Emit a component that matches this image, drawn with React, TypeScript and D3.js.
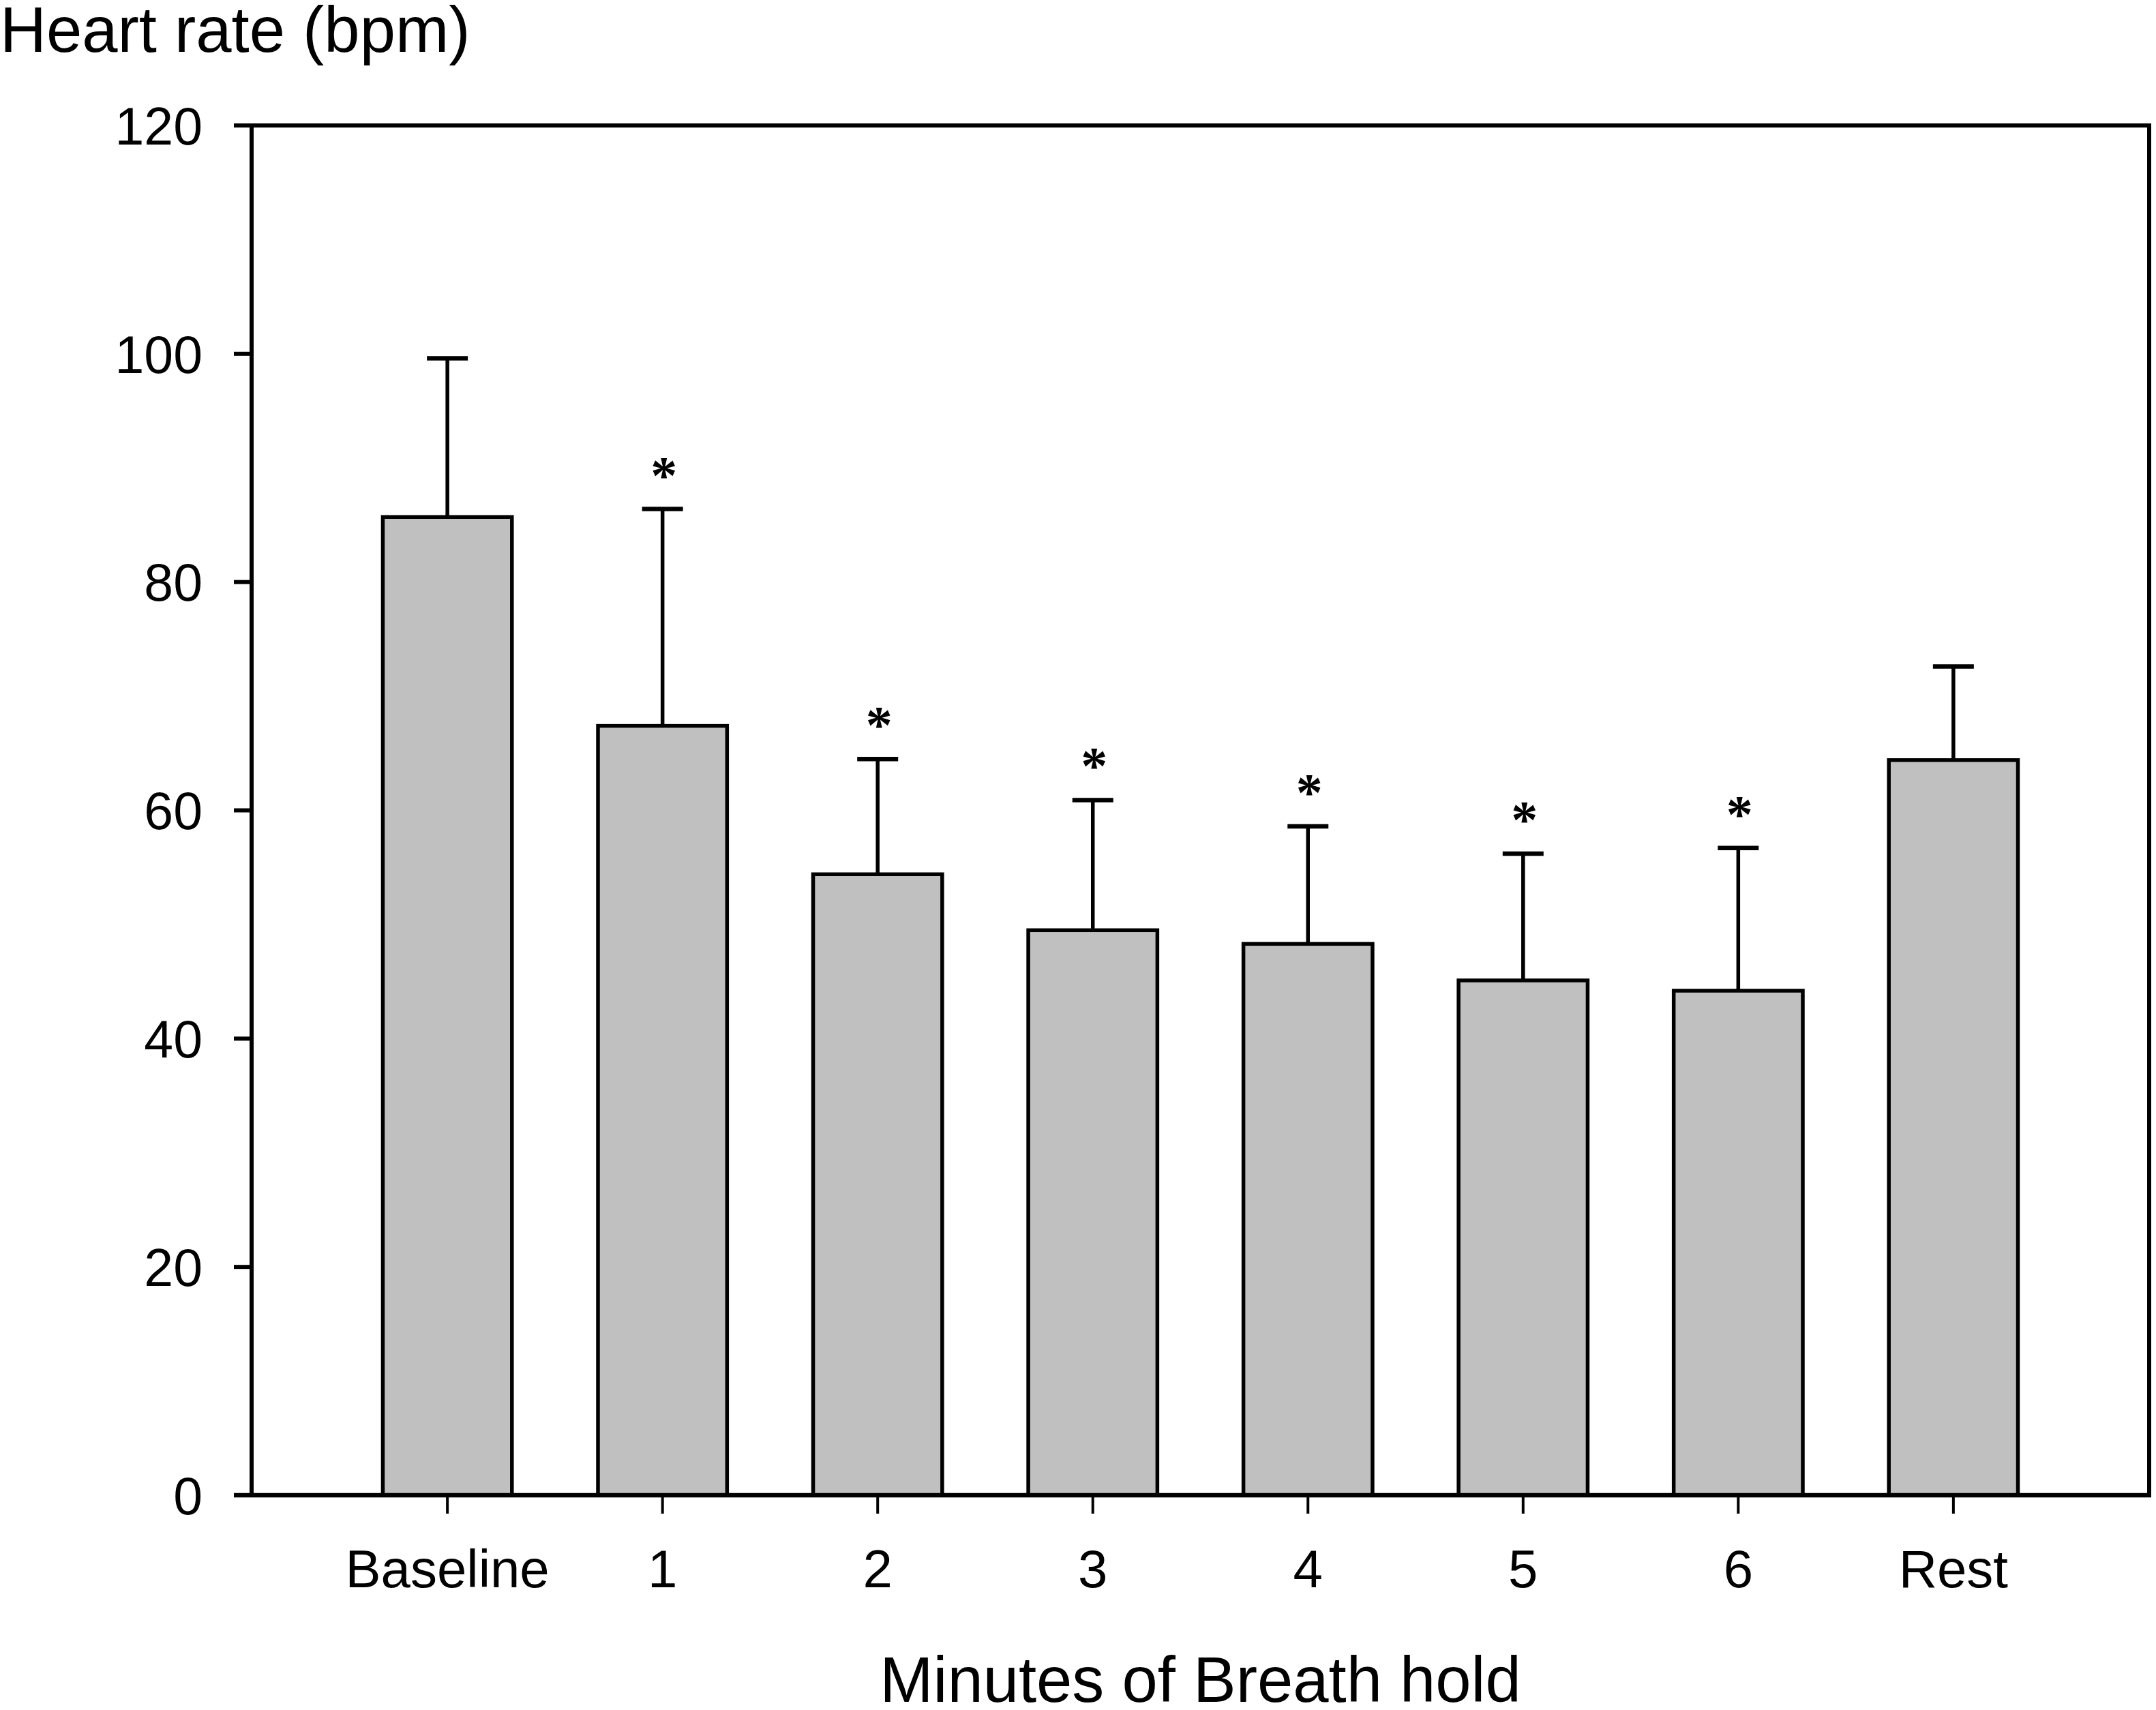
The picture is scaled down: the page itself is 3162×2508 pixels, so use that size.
import React from 'react';
import * as d3 from 'd3';

const categories = ['Baseline', '1', '2', '3', '4', '5', '6', 'Rest'];
const meanHR = [85.7, 67.4, 54.4, 49.5, 48.3, 45.1, 44.2, 64.4];
const sdHR = [13.9, 19.0, 10.1, 11.4, 10.3, 11.1, 12.5, 8.2];
const significant = [false, true, true, true, true, true, true, false];
const yTicks = [0, 20, 40, 60, 80, 100, 120];

const W = 3162;
const H = 2508;
const left = 369;
const right = 3152;
const top = 184;
const bottom = 2193;

export default function App() {
  const x = d3
    .scaleBand<string>()
    .domain(categories)
    .range([left, right])
    .paddingInner(0.4)
    .paddingOuter(0.61);
  const y = d3.scaleLinear().domain([0, 120]).range([bottom, top]);
  const bw = x.bandwidth();
  const sans = 'Liberation Sans, Arial, sans-serif';

  return (
    <svg
      width={W}
      height={H}
      viewBox={`0 0 ${W} ${H}`}
      style={{ position: 'absolute', left: 0, top: 0, background: '#fff' }}
    >
      <rect x={0} y={0} width={W} height={H} fill="#fff" />
      {/* bars */}
      {categories.map((c, i) => (
        <rect
          key={'b' + c}
          x={x(c)!}
          y={y(meanHR[i])}
          width={bw}
          height={y(0) - y(meanHR[i])}
          fill="#c0c0c0"
          stroke="#000"
          strokeWidth={5.5}
        />
      ))}
      {/* error bars */}
      {categories.map((c, i) => {
        const cx = x(c)! + bw / 2;
        const yt = y(meanHR[i] + sdHR[i]);
        return (
          <g key={'e' + c} stroke="#000">
            <line x1={cx} x2={cx} y1={y(meanHR[i])} y2={yt} strokeWidth={5.5} />
            <line x1={cx - 30} x2={cx + 30} y1={yt} y2={yt} strokeWidth={6.5} />
          </g>
        );
      })}
      {/* significance */}
      {categories.map((c, i) =>
        significant[i] ? (
          <text
            key={'s' + c}
            x={x(c)! + bw / 2 + 2}
            y={y(meanHR[i] + sdHR[i]) - 24}
            textAnchor="middle"
            fontFamily="Liberation Serif, Times New Roman, serif"
            fontWeight="bold"
            fontSize={78}
            fill="#000"
          >
            *
          </text>
        ) : null
      )}
      {/* frame */}
      <line x1={left} x2={left} y1={top - 3} y2={bottom + 3} stroke="#000" strokeWidth={6} />
      <line x1={left - 26} x2={right + 3} y1={bottom} y2={bottom} stroke="#000" strokeWidth={6.5} />
      <line x1={left - 3} x2={right + 3} y1={top} y2={top} stroke="#000" strokeWidth={6} />
      <line x1={right} x2={right} y1={top} y2={bottom} stroke="#000" strokeWidth={6} />
      {/* y ticks */}
      {yTicks.map((t) => (
        <g key={'yt' + t}>
          <line x1={left - 26} x2={left} y1={y(t)} y2={y(t)} stroke="#000" strokeWidth={6} />
          <text
            x={left - 72}
            y={y(t)}
            dy="0.36em"
            textAnchor="end"
            fontFamily={sans}
            fontSize={77}
            fill="#000"
          >
            {t}
          </text>
        </g>
      ))}
      {/* x ticks */}
      {categories.map((c) => {
        const cx = x(c)! + bw / 2;
        return (
          <g key={'xt' + c}>
            <line x1={cx} x2={cx} y1={bottom} y2={bottom + 27} stroke="#000" strokeWidth={4} />
            <text
              x={cx}
              y={2328}
              textAnchor="middle"
              fontFamily={sans}
              fontSize={78}
              fill="#000"
            >
              {c}
            </text>
          </g>
        );
      })}
      {/* titles */}
      <text x={0} y={76} fontFamily={sans} fontSize={94} fill="#000">
        Heart rate (bpm)
      </text>
      <text
        x={(left + right) / 2}
        y={2496}
        textAnchor="middle"
        fontFamily={sans}
        fontSize={94}
        fill="#000"
      >
        Minutes of Breath hold
      </text>
    </svg>
  );
}
